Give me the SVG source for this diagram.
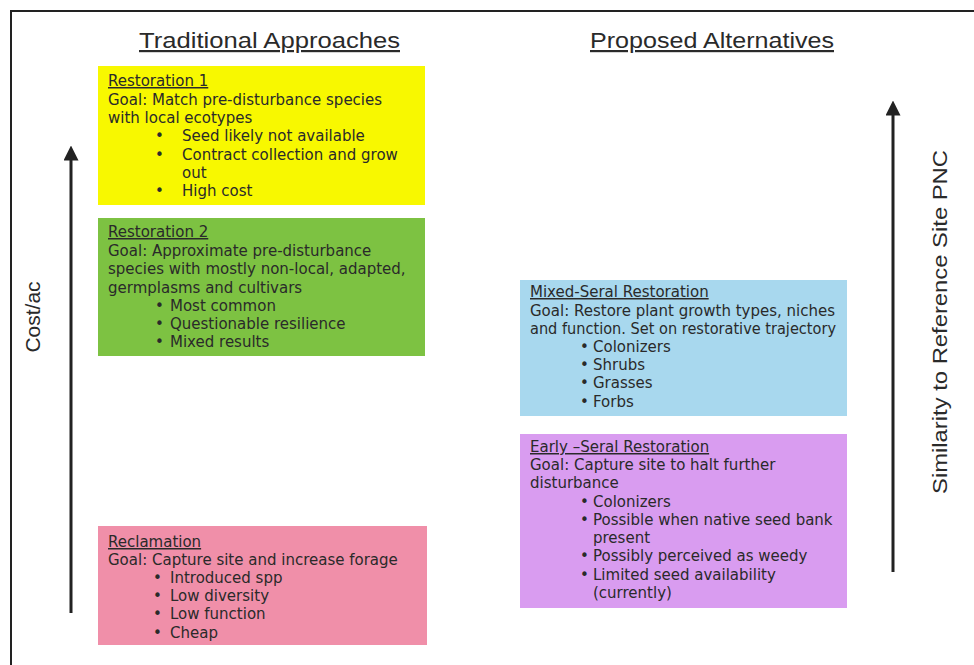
<svg xmlns="http://www.w3.org/2000/svg" width="974" height="665" viewBox="0 0 974 665">
<style>
.t{font-family:"DejaVu Sans","Liberation Sans",Arial,sans-serif;font-size:15px;fill:#2a2a2a}
.h{font-family:"Liberation Sans",Arial,sans-serif;font-size:22px;fill:#2a2a2a;text-decoration:underline}
.u{text-decoration:underline}
.ax{font-family:"Liberation Sans",Arial,sans-serif;font-size:21px;fill:#2a2a2a}
.arrow{stroke:#222;stroke-width:3;fill:none}
</style>
<defs>
<marker id="ah" markerWidth="5" markerHeight="5" refX="2.5" refY="2.5" orient="auto" markerUnits="strokeWidth">
<path d="M0,0 L5,2.5 L0,5 z" fill="#222"/>
</marker>
</defs>
<rect x="0" y="0" width="974" height="665" fill="#fff"/>
<path d="M11,665 V11 H974" stroke="#222" stroke-width="2" fill="none"/>
<text class="h" x="139" y="48" textLength="261" lengthAdjust="spacingAndGlyphs">Traditional Approaches</text>
<text class="h" x="590" y="48" textLength="244" lengthAdjust="spacingAndGlyphs">Proposed Alternatives</text>
<g id="connectors">
<line class="arrow" x1="71" y1="613" x2="71" y2="153" marker-end="url(#ah)"/>
<line class="arrow" x1="893" y1="572" x2="893" y2="108" marker-end="url(#ah)"/>
</g>
<text class="ax" transform="translate(40,317) rotate(-90)" text-anchor="middle">Cost/ac</text>
<text class="ax" transform="translate(947,322) rotate(-90)" text-anchor="middle" textLength="344" lengthAdjust="spacingAndGlyphs">Similarity to Reference Site PNC</text>
<g id="restoration1">
<rect x="98" y="66" width="327" height="139" fill="#F8F800"/>
<text class="t u" x="108" y="86">Restoration 1</text>
<text class="t" x="108" y="105">Goal: Match pre-disturbance species</text>
<text class="t" x="108" y="123">with local ecotypes</text>
<text class="t" x="155" y="141">•</text><text class="t" x="182" y="141">Seed likely not available</text>
<text class="t" x="155" y="160">•</text><text class="t" x="182" y="160">Contract collection and grow</text>
<text class="t" x="182" y="178">out</text>
<text class="t" x="155" y="196">•</text><text class="t" x="182" y="196">High cost</text>
</g>
<g id="restoration2">
<rect x="98" y="218" width="327" height="138" fill="#7DC242"/>
<text class="t u" x="108" y="237">Restoration 2</text>
<text class="t" x="108" y="256">Goal: Approximate pre-disturbance</text>
<text class="t" x="108" y="274">species with mostly non-local, adapted,</text>
<text class="t" x="108" y="293">germplasms and cultivars</text>
<text class="t" x="155" y="311">•</text><text class="t" x="170" y="311">Most common</text>
<text class="t" x="155" y="329">•</text><text class="t" x="170" y="329">Questionable resilience</text>
<text class="t" x="155" y="347">•</text><text class="t" x="170" y="347">Mixed results</text>
</g>
<g id="reclamation">
<rect x="98" y="526" width="329" height="119" fill="#F08FA9"/>
<text class="t u" x="108" y="547">Reclamation</text>
<text class="t" x="108" y="565">Goal: Capture site and increase forage</text>
<text class="t" x="153" y="583">•</text><text class="t" x="170" y="583">Introduced spp</text>
<text class="t" x="153" y="601">•</text><text class="t" x="170" y="601">Low diversity</text>
<text class="t" x="153" y="619">•</text><text class="t" x="170" y="619">Low function</text>
<text class="t" x="153" y="638">•</text><text class="t" x="170" y="638">Cheap</text>
</g>
<g id="mixedseral">
<rect x="520" y="280" width="327" height="136" fill="#A8D8EE"/>
<text class="t u" x="530" y="297">Mixed-Seral Restoration</text>
<text class="t" x="530" y="316">Goal: Restore plant growth types, niches</text>
<text class="t" x="530" y="334" textLength="306" lengthAdjust="spacingAndGlyphs">and function. Set on restorative trajectory</text>
<text class="t" x="580" y="352">•</text><text class="t" x="593" y="352">Colonizers</text>
<text class="t" x="580" y="370">•</text><text class="t" x="593" y="370">Shrubs</text>
<text class="t" x="580" y="388">•</text><text class="t" x="593" y="388">Grasses</text>
<text class="t" x="580" y="407">•</text><text class="t" x="593" y="407">Forbs</text>
</g>
<g id="earlyseral">
<rect x="520" y="434" width="327" height="174" fill="#D99CF0"/>
<text class="t u" x="530" y="452">Early –Seral Restoration</text>
<text class="t" x="530" y="470">Goal: Capture site to halt further</text>
<text class="t" x="530" y="488">disturbance</text>
<text class="t" x="580" y="507">•</text><text class="t" x="593" y="507">Colonizers</text>
<text class="t" x="580" y="525">•</text><text class="t" x="593" y="525">Possible when native seed bank</text>
<text class="t" x="593" y="543">present</text>
<text class="t" x="580" y="561">•</text><text class="t" x="593" y="561">Possibly perceived as weedy</text>
<text class="t" x="580" y="580">•</text><text class="t" x="593" y="580">Limited seed availability</text>
<text class="t" x="593" y="598">(currently)</text>
</g>
</svg>
